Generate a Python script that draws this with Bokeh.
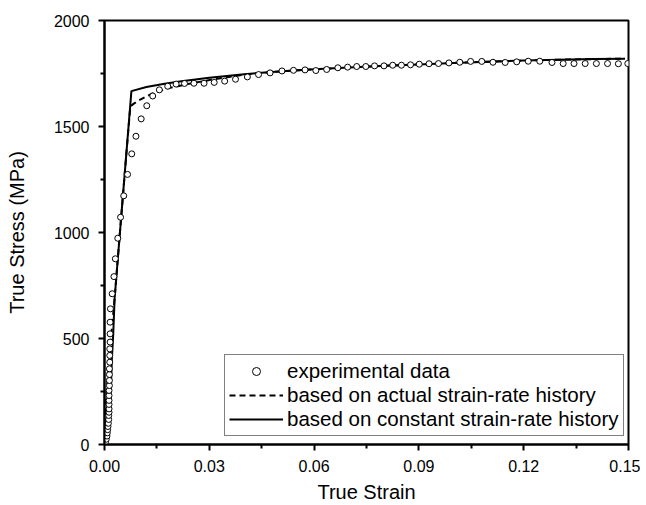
from bokeh.plotting import figure
from bokeh.models import FixedTicker, NumeralTickFormatter, Legend, LegendItem, Range1d
from bokeh.embed import file_html
from bokeh.resources import INLINE

# ---- data ----
exp_strain = [0.0003, 0.0005, 0.0007, 0.0008, 0.0009, 0.0010, 0.0011, 0.0012, 0.0012, 0.0013,
              0.0013, 0.0013, 0.0013, 0.0013, 0.0013, 0.0014, 0.0014, 0.0014, 0.0014, 0.0015,
              0.0015, 0.0015, 0.0016, 0.0016, 0.0016, 0.0017, 0.0022, 0.0027, 0.0031, 0.0038,
              0.0046, 0.0055, 0.0066, 0.0078, 0.0090, 0.0105, 0.0121, 0.0138, 0.0157, 0.0181,
              0.0205, 0.0229, 0.0256, 0.0285, 0.0314, 0.0344, 0.0375, 0.0409, 0.0441, 0.0474,
              0.0508, 0.0541, 0.0574, 0.0605, 0.0636, 0.0668, 0.0696, 0.0722, 0.0748, 0.0773,
              0.0800, 0.0825, 0.0850, 0.0876, 0.0901, 0.0929, 0.0956, 0.0986, 0.1017, 0.1048,
              0.1080, 0.1112, 0.1147, 0.1180, 0.1213, 0.1246, 0.1281, 0.1313, 0.1344, 0.1376,
              0.1408, 0.1440, 0.1471, 0.1498]
exp_stress = [10, 25, 40, 55, 70, 85, 100, 118, 137, 152,
              168, 189, 208, 231, 255, 278, 302, 330, 357, 388,
              420, 451, 483, 522, 577, 640, 711, 792, 876, 973,
              1072, 1173, 1274, 1371, 1454, 1536, 1598, 1644, 1673, 1690,
              1700, 1703, 1704, 1704, 1708, 1714, 1723, 1734, 1745, 1753,
              1762, 1765, 1767, 1764, 1769, 1777, 1780, 1783, 1783, 1786,
              1786, 1789, 1789, 1791, 1794, 1796, 1797, 1800, 1803, 1807,
              1807, 1803, 1802, 1805, 1808, 1808, 1802, 1797, 1797, 1797,
              1797, 1797, 1796, 1797]

actual_strain = [0.0, 0.0002, 0.0006, 0.0013, 0.0029, 0.0043, 0.0065, 0.0074, 0.0084, 0.0095,
                 0.0112, 0.0136, 0.018, 0.025, 0.031, 0.040, 0.050, 0.060, 0.070, 0.080,
                 0.090, 0.100, 0.110, 0.120, 0.130, 0.140, 0.149]
actual_stress = [0, 100, 250, 400, 690, 976, 1420, 1595, 1608, 1620,
                 1635, 1655, 1680, 1704, 1722, 1745, 1760, 1770, 1778, 1786,
                 1793, 1800, 1806, 1811, 1815, 1818, 1820]

const_strain = [0.0, 0.0010, 0.0016, 0.0018, 0.0019, 0.0021, 0.0025, 0.0029, 0.0043, 0.0077,
                0.0120, 0.0172, 0.0220, 0.030, 0.040, 0.050, 0.060, 0.070, 0.080, 0.090,
                0.100, 0.110, 0.120, 0.130, 0.140, 0.149]
const_stress = [0, 50, 120, 200, 300, 400, 520, 690, 976, 1667,
                1686, 1702, 1713, 1730, 1747, 1760, 1770, 1778, 1786, 1793,
                1800, 1806, 1811, 1815, 1818, 1820]

x_ticks = [0.0, 0.03, 0.06, 0.09, 0.12, 0.15]
y_ticks = [0, 500, 1000, 1500, 2000]

FONT = "Liberation Sans"

p = figure(width=640, height=505, output_backend="svg", toolbar_location=None,
           x_range=Range1d(0, 0.15), y_range=Range1d(0, 2000),
           min_border_left=104, min_border_right=12, min_border_top=20, min_border_bottom=61)
p.grid.visible = False
p.background_fill_color = "white"
p.border_fill_color = "white"
p.outline_line_color = "black"
p.outline_line_width = 2
p.outline_line_alpha = 1

r_actual = p.line(actual_strain, actual_stress, line_color="black", line_width=2, line_dash="6 4")
r_const = p.line(const_strain, const_stress, line_color="black", line_width=2)
r_exp = p.scatter(exp_strain, exp_stress, marker="circle", size=6,
                  fill_color="white", line_color="black", line_width=1)

x_minor = [(a + b) / 2 for a, b in zip(x_ticks[:-1], x_ticks[1:])]
y_minor = [(a + b) / 2 for a, b in zip(y_ticks[:-1], y_ticks[1:])]
p.xaxis.ticker = FixedTicker(ticks=x_ticks, minor_ticks=x_minor)
p.yaxis.ticker = FixedTicker(ticks=y_ticks, minor_ticks=y_minor)
p.xaxis.formatter = NumeralTickFormatter(format="0.00")

for ax in (p.xaxis[0], p.yaxis[0]):
    ax.axis_line_width = 2
    ax.axis_line_color = "black"
    ax.major_tick_line_width = 2
    ax.minor_tick_line_width = 2
    ax.major_tick_line_color = "black"
    ax.minor_tick_line_color = "black"
    ax.major_tick_out = 6
    ax.major_tick_in = 0
    ax.minor_tick_out = 4
    ax.minor_tick_in = 0
    ax.major_label_text_font = FONT
    ax.major_label_text_font_size = "16px"
    ax.major_label_text_color = "black"
    ax.major_label_text_line_height = 1.0
    ax.major_label_standoff = 9
    ax.axis_label_text_font = FONT
    ax.axis_label_text_font_size = "20px"
    ax.axis_label_text_font_style = "normal"
    ax.axis_label_text_color = "black"
    ax.axis_label_text_line_height = 1.0

p.xaxis.axis_label = "True Strain"
p.yaxis.axis_label = "True Stress (MPa)"
p.xaxis.axis_label_standoff = 6
p.yaxis.axis_label_standoff = 23

legend = Legend(items=[LegendItem(label="experimental data", renderers=[r_exp]),
                       LegendItem(label="based on actual strain-rate history", renderers=[r_actual]),
                       LegendItem(label="based on constant strain-rate history", renderers=[r_const])],
                location=(120, 8))
legend.border_line_color = "black"
legend.border_line_width = 1
legend.background_fill_color = "white"
legend.background_fill_alpha = 1
legend.label_text_font = FONT
legend.label_text_font_size = "20.5px"
legend.label_text_line_height = 1.0
legend.label_text_color = "black"
legend.padding = 4
legend.spacing = 0
legend.margin = 0
legend.glyph_width = 54
legend.glyph_height = 20
legend.label_height = 20
legend.label_standoff = 4
p.add_layout(legend)

open("out.html", "w").write(file_html(p, INLINE))
